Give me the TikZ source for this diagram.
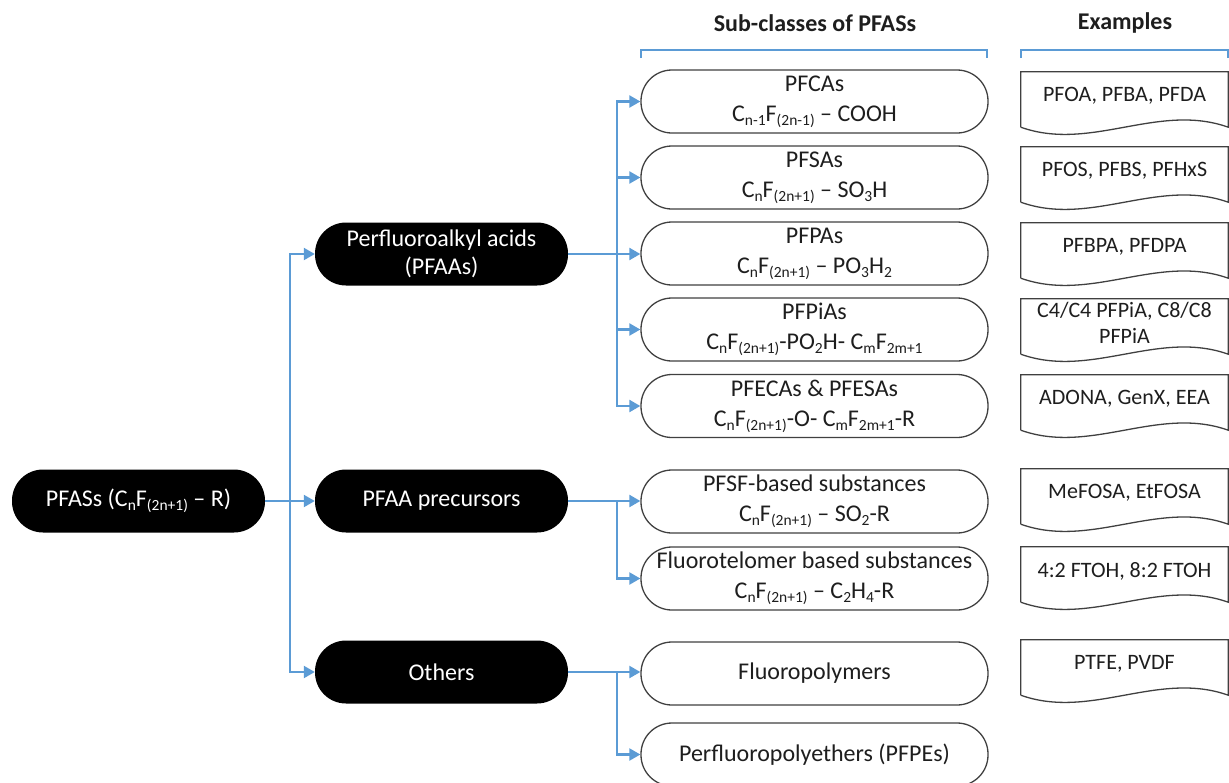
\documentclass[tikz,border=0pt]{standalone}
\usepackage{fontspec}
\setmainfont{Carlito}
\usetikzlibrary{arrows.meta}
\definecolor{arrblue}{RGB}{91,155,213}
\definecolor{txt}{RGB}{30,30,30}
\definecolor{edge}{RGB}{64,64,64}
\newcommand\sbs[1]{\raisebox{-0.35ex}{\fontsize{15.5}{15.5}\selectfont #1}}
\begin{document}
\begin{tikzpicture}[x=1pt,y=-1pt,
 blacknode/.style={fill=black, text=white, rounded corners=31pt, minimum width=253pt, minimum height=63pt, inner sep=0pt, align=center, font=\fontsize{24}{28}\selectfont},
 subbox/.style={draw=edge, line width=1.3pt, fill=white, text=txt, rounded corners=31pt, minimum width=347pt, minimum height=63pt, inner sep=0pt, align=center, font=\fontsize{24}{30}\selectfont},
 docbox/.style={text=txt, minimum width=207pt, minimum height=48pt, inner sep=0pt, align=center, font=\fontsize{22}{26}\selectfont},
 docline/.style={draw=edge, line width=1.3pt},
 conn/.style={draw=arrblue, line width=2.2pt},
 arr/.style={conn, -{Triangle[length=11pt,width=12pt]}},
 header/.style={text=txt, font=\bfseries\fontsize{24}{28}\selectfont},
 bracket/.style={draw=arrblue, line width=1.3pt}]

\useasboundingbox (0,0) rectangle (1229,782);

% headers
\node[header] (h1) at (815,23) {Sub-classes of PFASs};
\node[header] (h2) at (1125,23) {Examples};
\draw[bracket] (641,58) -- (641,50) -- (987,50) -- (987,58);
\draw[bracket] (1021,58) -- (1021,50) -- (1228,50) -- (1228,58);

% black nodes
\node[blacknode] (root) at (138.5,501) {PFASs (C\sbs{n}F\sbs{(2n+1)} – R)};
\node[blacknode] (pfaa) at (441.5,254) {Perfluoroalkyl acids\\(PFAAs)};
\node[blacknode] (prec) at (441.5,501) {PFAA precursors};
\node[blacknode] (oth) at (441.5,672) {Others};

% sub-classes
\node[subbox] (pfca) at (814.5,101.5) {PFCAs\\C\sbs{n-1}F\sbs{(2n-1)} – COOH};
\node[subbox] (pfsa) at (814.5,177.5) {PFSAs\\C\sbs{n}F\sbs{(2n+1)} – SO\sbs{3}H};
\node[subbox] (pfpa) at (814.5,253.5) {PFPAs\\C\sbs{n}F\sbs{(2n+1)} – PO\sbs{3}H\sbs{2}};
\node[subbox] (pfpia) at (814.5,329.5) {PFPiAs\\C\sbs{n}F\sbs{(2n+1)}-PO\sbs{2}H- C\sbs{m}F\sbs{2m+1}};
\node[subbox] (pfeca) at (814.5,406) {PFECAs \& PFESAs\\C\sbs{n}F\sbs{(2n+1)}-O- C\sbs{m}F\sbs{2m+1}-R};
\node[subbox] (pfsf) at (814.5,501.5) {PFSF-based substances\\C\sbs{n}F\sbs{(2n+1)} – SO\sbs{2}-R};
\node[subbox] (ft) at (814.5,578.5) {Fluorotelomer based substances\\C\sbs{n}F\sbs{(2n+1)} – C\sbs{2}H\sbs{4}-R};
\node[subbox] (fp) at (814.5,673.5) {Fluoropolymers};
\node[subbox] (pfpe) at (814.5,754.5) {Perfluoropolyethers (PFPEs)};

% examples
\node[docbox] (e1) at (1124.5,96) {PFOA, PFBA, PFDA};
\node[docbox] (e2) at (1124.5,171) {PFOS, PFBS, PFHxS};
\node[docbox] (e3) at (1124.5,247) {PFBPA, PFDPA};
\node[docbox] (e4) at (1124.5,323) {C4/C4 PFPiA, C8/C8\\PFPiA};
\node[docbox] (e5) at (1124.5,399) {ADONA, GenX, EEA};
\node[docbox] (e6) at (1124.5,493) {MeFOSA, EtFOSA};
\node[docbox] (e7) at (1124.5,571) {4:2 FTOH, 8:2 FTOH};
\node[docbox] (e8) at (1124.5,664) {PTFE, PVDF};
\foreach \n in {e1,e2,e3,e4,e5,e6,e7,e8}{
  \draw[docline] ([yshift=-7pt]\n.south west) -- (\n.north west) -- (\n.north east) -- ([yshift=-7pt]\n.south east)
    .. controls ([xshift=-70pt,yshift=18pt]\n.south east) and ([xshift=70pt,yshift=-32pt]\n.south west) .. ([yshift=-7pt]\n.south west);
}

% connectors
\coordinate (j1) at (290,501);
\draw[arr] (root.east) -- (prec.west);
\draw[arr] (j1) |- (pfaa.west);
\draw[arr] (j1) |- (oth.west);

\coordinate (j2) at (617,254);
\draw[arr] (pfaa.east) -- (pfaa.east -| pfpa.west);
\draw[arr] (j2) |- (pfca.west);
\draw[arr] (j2) |- (pfsa.west);
\draw[arr] (j2) |- (pfpia.west);
\draw[arr] (j2) |- (pfeca.west);

\coordinate (j3) at (617,501);
\draw[arr] (prec.east) -- (prec.east -| pfsf.west);
\draw[arr] (j3) |- (ft.west);

\coordinate (j4) at (617,672);
\draw[arr] (oth.east) -- (oth.east -| fp.west);
\draw[arr] (j4) |- (pfpe.west);
\end{tikzpicture}
\end{document}
